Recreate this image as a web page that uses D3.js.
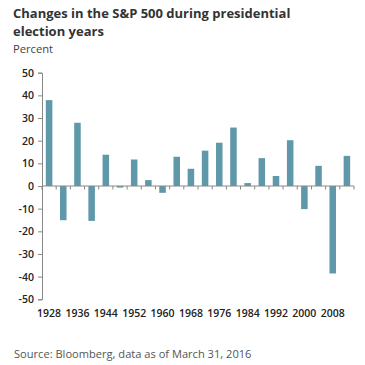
<!DOCTYPE html>
<html><head><meta charset="utf-8">
<script src="https://cdnjs.cloudflare.com/ajax/libs/d3/7.8.5/d3.min.js"></script>
<style>body{margin:0;background:#fff}svg{display:block}</style>
</head><body>
<script>
const years = [1928,1932,1936,1940,1944,1948,1952,1956,1960,1964,1968,1972,1976,1980,1984,1988,1992,1996,2000,2004,2008,2012];
const changes = [37.9,-15.1,27.9,-15.4,13.8,-0.7,11.7,2.6,-3.0,12.9,7.6,15.6,19.1,25.8,1.3,12.3,4.4,20.2,-10.2,8.9,-38.6,13.3];
const yTicks = [50,40,30,20,10,0,-10,-20,-30,-40,-50];
const xLabels = [1928,1936,1944,1952,1960,1968,1976,1984,1992,2000,2008];

(function(){
const W=365,H=365;
const svg=d3.select("body").append("svg").attr("width",W).attr("height",H);
const mLeft=42,mRight=354,mTop=72.7,mBottom=299.3;
const x=d3.scaleBand().domain(years).range([mLeft,mRight]).paddingInner(0.54).paddingOuter(0.27);
const y=d3.scaleLinear().domain([-50,50]).range([mBottom,mTop]);
const font="'Open Sans', sans-serif";

svg.append("text").attr("x",13).attr("y",18).attr("font-family",font).attr("font-weight",700)
  .attr("font-size",13).attr("fill","#333").text("Changes in the S&P 500 during presidential");
svg.append("text").attr("x",13).attr("y",35.5).attr("font-family",font).attr("font-weight",700)
  .attr("font-size",13).attr("fill","#333").text("election years");
svg.append("text").attr("x",13).attr("y",52.5).attr("font-family",font)
  .attr("font-size",11.2).attr("fill","#444").text("Percent");

svg.append("g").selectAll("rect").data(years).join("rect")
  .attr("x",d=>x(d)).attr("width",x.bandwidth())
  .attr("y",(d,i)=>y(Math.max(0,changes[i])))
  .attr("height",(d,i)=>Math.abs(y(changes[i])-y(0)))
  .attr("fill","#5f98a9");

const ya=svg.append("g").attr("transform",`translate(${mLeft},0)`)
  .call(d3.axisLeft(y).tickValues(yTicks).tickSize(4).tickPadding(4).tickFormat(d=>String(d)));
ya.select(".domain").attr("stroke","#888");
ya.selectAll(".tick line").attr("stroke","#888");
ya.selectAll("text").attr("font-family",font).attr("font-weight",600).attr("font-size",10.5).attr("fill","#222");

svg.append("line").attr("x1",mLeft).attr("x2",mRight).attr("y1",y(0)).attr("y2",y(0)).attr("stroke","#888");
const bounds=d3.range(years.length+1).map(i=>mLeft+i*(mRight-mLeft)/years.length);
svg.append("g").selectAll("line").data(bounds).join("line")
  .attr("x1",d=>d).attr("x2",d=>d).attr("y1",y(0)).attr("y2",y(0)+3.5).attr("stroke","#888");

svg.append("g").selectAll("text").data(xLabels).join("text")
  .attr("x",d=>x(d)+x.bandwidth()/2).attr("y",316.5).attr("text-anchor","middle")
  .attr("font-family",font).attr("font-weight",600).attr("font-size",10.5).attr("fill","#222").text(d=>d);

svg.append("text").attr("x",14).attr("y",358).attr("font-family",font)
  .attr("font-size",11.1).attr("fill","#555").text("Source: Bloomberg, data as of March 31, 2016");
})();
</script>
</body></html>
